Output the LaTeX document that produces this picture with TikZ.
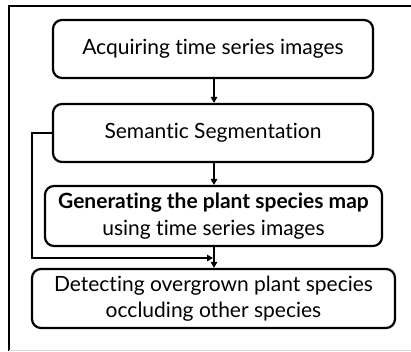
\documentclass[tikz,border=0pt]{standalone}
\usepackage{fontspec}
\setmainfont[Ligatures=NoCommon]{Lato}
\usetikzlibrary{arrows.meta}
\begin{document}
\begin{tikzpicture}[x=1pt,y=-1pt,
  stepbox/.style={draw,line width=2.2pt,rounded corners=9pt,minimum width=#1,align=center,inner sep=0pt,font=\fontsize{21}{26.5}\selectfont},
  conn/.style={line width=1.8pt,-{Triangle[length=6pt,width=6.5pt]}}]
\useasboundingbox (0,0) rectangle (411,351);
\draw[line width=1.3pt] (9,351) -- (9,6) -- (411,6);
\draw[line width=0.5pt,black!15] (9,350) -- (411,350);
\node[stepbox=320pt,minimum height=58pt] (a) at (213,49) {Acquiring time series images};
\node[stepbox=320pt,minimum height=58pt] (b) at (213,133) {Semantic Segmentation};
\node[stepbox=337pt,minimum height=60pt] (c) at (213.5,216) {\textbf{Generating the plant species map}\\using time series images};
\node[stepbox=363pt,minimum height=59pt] (d) at (213.5,298.5) {Detecting overgrown plant species\\occluding other species};
\coordinate (j) at (214,258);
\coordinate (l) at (32,258);
\draw[conn] (a.south -| 214,0) -- (b.north -| 214,0);
\draw[conn] (b.south -| 214,0) -- (c.north -| 214,0);
\draw[conn] (c.south -| 214,0) -- (d.north -| 214,0);
\draw[conn] (b.west) -- (32,133) -- (l) -- ([xshift=-1pt]j);
\end{tikzpicture}
\end{document}
